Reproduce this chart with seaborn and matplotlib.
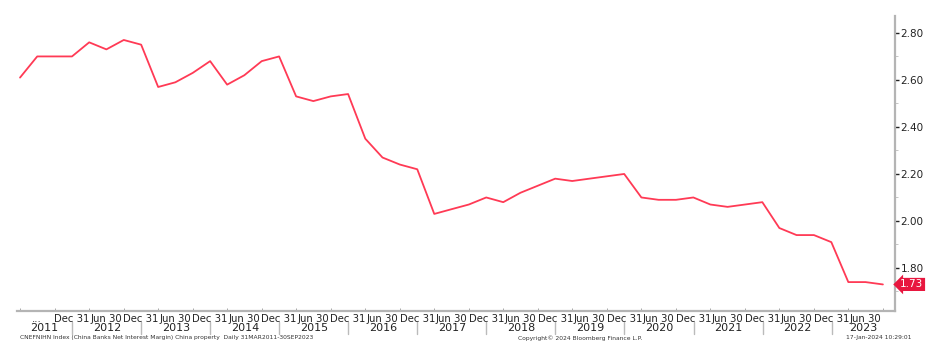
import matplotlib
matplotlib.use("Agg")
import matplotlib.pyplot as plt
import matplotlib.dates as mdates
import matplotlib.transforms as mtrans
import seaborn as sns
import pandas as pd
import numpy as np

# ---- data (quarter-end values, China banks net interest margin, %) ----
quarters = pd.date_range("2011-03-31", "2023-09-30", freq="QE")
nim = [2.61, 2.70, 2.70, 2.70,
       2.76, 2.73, 2.77, 2.75,
       2.57, 2.59, 2.63, 2.68,
       2.58, 2.62, 2.68, 2.70,
       2.53, 2.51, 2.53, 2.54,
       2.35, 2.27, 2.24, 2.22,
       2.03, 2.05, 2.07, 2.10,
       2.08, 2.12, 2.15, 2.18,
       2.17, 2.18, 2.19, 2.20,
       2.10, 2.09, 2.09, 2.10,
       2.07, 2.06, 2.07, 2.08,
       1.97, 1.94, 1.94, 1.91,
       1.74, 1.74, 1.73]
years = list(range(2011, 2024))
ytick_values = [1.80, 2.00, 2.20, 2.40, 2.60, 2.80]
last_label = "1.73"
footnote_left = "CNEFNIHN Index (China Banks Net Interest Margin) China property  Daily 31MAR2011-30SEP2023"
footnote_mid = "Copyright\u00a9 2024 Bloomberg Finance L.P."
footnote_right = "17-Jan-2024 10:29:01"

df = pd.DataFrame({"date": quarters, "nim": nim})

sns.set_theme(style="white")
plt.rcParams["font.family"] = ["DejaVu Sans"]

W, H = 935, 349
fig = plt.figure(figsize=(W / 100, H / 100), dpi=100)
ax = fig.add_axes([17 / W, 1 - 311 / H, (895 - 17) / W, (311 - 16) / H])

line_color = "#FF3A55"
sns.lineplot(data=df, x="date", y="nim", ax=ax, color=line_color, linewidth=1.3)

ax.set_xlim(pd.Timestamp("2011-03-15"), pd.Timestamp("2023-12-03"))
ax.set_ylim(1.617, 2.872)
ax.set_xlabel("")
ax.set_ylabel("")

# spines
for s in ["top", "left"]:
    ax.spines[s].set_visible(False)
for s in ["right", "bottom"]:
    ax.spines[s].set_color("#B4B4B4")
    ax.spines[s].set_linewidth(1.6)

# y axis on right
ax.yaxis.tick_right()
ax.set_yticks(ytick_values)
ax.set_yticklabels([f"{v:.2f}" for v in ytick_values])
ax.yaxis.set_minor_locator(matplotlib.ticker.MultipleLocator(0.1))
ax.tick_params(axis="y", which="major", direction="out", length=3, width=1.0,
               color="#222222", labelsize=7.5, labelcolor="#222222", pad=1)
ax.tick_params(axis="y", which="minor", direction="out", length=2, width=0.6,
               color="#BBBBBB", right=True)

# x ticks: Jun 30 / Dec 31 labels
half_dates = [d for d in quarters if d.month in (6, 12)]
half_dates.append(pd.Timestamp("2011-06-30"))
half_dates = sorted(set(half_dates))
labels = []
for d in half_dates:
    if d == pd.Timestamp("2011-06-30"):
        labels.append("...")
    elif d.month == 6:
        labels.append("Jun 30")
    else:
        labels.append("Dec 31")
ax.set_xticks(half_dates)
ax.set_xticklabels(labels)
ax.xaxis.set_minor_locator(mdates.MonthLocator(bymonth=[3, 9], bymonthday=-1))
ax.tick_params(axis="x", which="major", direction="inout", length=4, width=0.8,
               color="#333333", labelsize=7.3, labelcolor="#222222", pad=0)
ax.tick_params(axis="x", which="minor", direction="in", length=2, width=0.6,
               color="#999999", bottom=True)

# year labels & separators
trans = mtrans.blended_transform_factory(ax.transData, ax.transAxes)
y_year = -(328 - 311) / (311 - 16)
y_sep0 = -(322 - 311) / (311 - 16)
y_sep1 = -(334 - 311) / (311 - 16)
xmin, xmax = ax.get_xlim()
for yr in years:
    start = max(mdates.date2num(pd.Timestamp(f"{yr}-01-01")), xmin)
    end = min(mdates.date2num(pd.Timestamp(f"{yr + 1}-01-01")), xmax)
    ax.text((start + end) / 2, y_year, str(yr), transform=trans, ha="center",
            va="center", fontsize=8, color="#222222")
    if yr > years[0]:
        sep = mdates.date2num(pd.Timestamp(f"{yr}-01-01"))
        ax.plot([sep, sep], [y_sep0, y_sep1], transform=trans, color="#BBBBBB",
                linewidth=1.0, clip_on=False)

# last value label on the right axis
ytrans = mtrans.blended_transform_factory(ax.transAxes, ax.transData)
ax.text(1.006, nim[-1], last_label, transform=ytrans, ha="left", va="center",
        fontsize=7.5, color="white",
        bbox=dict(boxstyle="larrow,pad=0.15", fc="#E8173F", ec="none"))

# footnotes
fig.text(20 / W, 1 - 338 / H, footnote_left, fontsize=4.3, color="#333333",
         ha="left", va="center")
fig.text(518 / W, 1 - 338 / H, footnote_mid, fontsize=4.3, color="#333333",
         ha="left", va="center")
fig.text(912 / W, 1 - 338 / H, footnote_right, fontsize=4.3, color="#333333",
         ha="right", va="center")

fig.savefig("out.png", dpi=100)
